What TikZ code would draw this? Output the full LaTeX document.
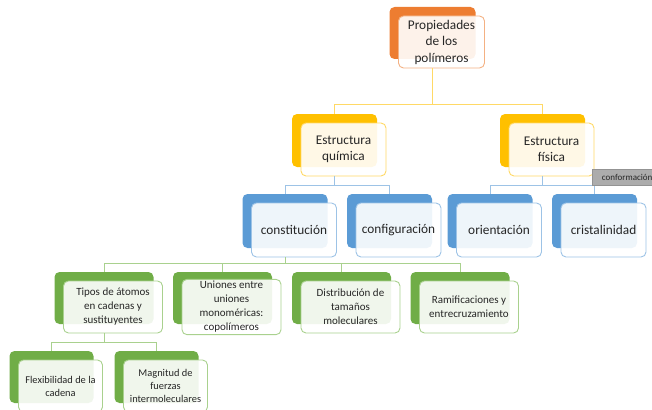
\documentclass[tikz,border=0pt]{standalone}
\usepackage{fontspec}
\setmainfont{Carlito}
\definecolor{naranja}{HTML}{ED7D31}
\definecolor{naranjaL}{HTML}{F4B183}
\definecolor{amarillo}{HTML}{FFC000}
\definecolor{amarilloL}{HTML}{FFD966}
\definecolor{azul}{HTML}{5B9BD5}
\definecolor{azulL}{HTML}{9DC3E6}
\definecolor{verde}{HTML}{70AD47}
\definecolor{verdeL}{HTML}{A9D18E}

\begin{document}
\begin{tikzpicture}[x=1pt, y={(0pt,-1pt)},
  every node/.style={rounded corners=5pt, inner sep=2pt, align=center, text=black!85},
  atras/.style={fill=#1},
  frente/.style={fill=white, fill opacity=0.9, text opacity=1, draw=#1, line width=0.9pt},
  n1/.style={minimum width=86pt, minimum height=52pt, font=\fontsize{13.3}{16.5}\selectfont},
  n2/.style={minimum width=85pt, minimum height=53pt, font=\fontsize{13.3}{16.5}\selectfont},
  n3/.style={minimum width=85pt, minimum height=54pt, font=\fontsize{13.3}{16.5}\selectfont},
  n4/.style={minimum width=99pt, minimum height=52pt, font=\fontsize{11}{14}\selectfont},
  n5/.style={minimum width=84pt, minimum height=52pt, font=\fontsize{10.4}{13}\selectfont},
  enlace/.style={draw=#1, line width=0.9pt},
  etiqueta/.style={rounded corners=0pt, fill=gray!65, draw=gray!85, anchor=north west,
    minimum width=70pt, minimum height=16pt, inner xsep=4pt, align=left,
    font=\fontsize{9}{11}\selectfont}]
\useasboundingbox (0,0) rectangle (652,409);
\clip (0,0) rectangle (652,409);

\coordinate (bus1) at (0,104);
\coordinate (bus2) at (0,185);
\coordinate (bus3) at (0,263);
\coordinate (bus4) at (0,342);

\node[n1,atras=naranja] (propB) at (432.5,33) {};
\node[n1,frente=naranjaL] (propF) at ([shift={(9,9)}]propB) {Propiedades\\de los\\polímeros};

\node[n2,atras=amarillo] (quimB) at (334.5,140.5) {};
\node[n2,frente=amarilloL] (quimF) at ([shift={(9,9)}]quimB) {Estructura\\química};
\node[n2,atras=amarillo] (fisB) at (542.5,140.5) {};
\node[n2,frente=amarilloL] (fisF) at ([shift={(9,9)}]fisB) {Estructura\\física};

\node[n3,atras=azul] (consB) at (285,221) {};
\node[n3,frente=azulL] (consF) at ([shift={(9,9)}]consB) {constitución};
\node[n3,atras=azul] (confB) at (389.5,221) {};
\node[n3,frente=azulL] (confF) at ([shift={(9,9)}]confB) {configuración};
\node[n3,atras=azul] (orieB) at (490,221) {};
\node[n3,frente=azulL] (orieF) at ([shift={(9,9)}]orieB) {orientación};
\node[n3,atras=azul] (crisB) at (594.5,221) {};
\node[n3,frente=azulL] (crisF) at ([shift={(9,9)}]crisB) {cristalinidad};

\node[n4,atras=verde] (tipoB) at (104,298) {};
\node[n4,frente=verdeL] (tipoF) at ([shift={(9,9)}]tipoB) {Tipos de átomos\\en cadenas y\\sustituyentes};
\node[n4,atras=verde] (unioB) at (222.5,298) {};
\node[n4,frente=verdeL] (unioF) at ([shift={(9,9)}]unioB) {Uniones entre\\uniones\\monoméricas:\\copolímeros};
\node[n4,atras=verde] (distB) at (341.5,298) {};
\node[n4,frente=verdeL] (distF) at ([shift={(9,9)}]distB) {Distribución de\\tamaños\\moleculares};
\node[n4,atras=verde] (ramiB) at (460,298) {};
\node[n4,frente=verdeL] (ramiF) at ([shift={(9,9)}]ramiB) {Ramificaciones y\\entrecruzamiento};

\node[n5,atras=verde] (flexB) at (51.5,377) {};
\node[n5,frente=verdeL] (flexF) at ([shift={(9,9)}]flexB) {Flexibilidad de la\\cadena};
\node[n5,atras=verde] (magnB) at (156.5,377) {};
\node[n5,frente=verdeL] (magnF) at ([shift={(9,9)}]magnB) {Magnitud de\\fuerzas\\intermoleculares};

\draw[enlace=amarilloL] (propB |- propF.south) |- (quimB |- bus1) -- (quimB.north);
\draw[enlace=amarilloL] (propB |- propF.south) |- (fisB |- bus1) -- (fisB.north);

\draw[enlace=azulL] (quimB |- quimF.south) |- (consB |- bus2) -- (consB.north);
\draw[enlace=azulL] (quimB |- quimF.south) |- (confB |- bus2) -- (confB.north);
\draw[enlace=azulL] (fisB |- fisF.south) |- (orieB |- bus2) -- (orieB.north);
\draw[enlace=azulL] (fisB |- fisF.south) |- (crisB |- bus2) -- (crisB.north);

\foreach \hijo in {tipoB,unioB,distB,ramiB}
  \draw[enlace=verdeL] (consB |- consF.south) |- (\hijo |- bus3) -- (\hijo.north);
\foreach \hijo in {flexB,magnB}
  \draw[enlace=verdeL] (tipoB |- tipoF.south) |- (\hijo |- bus4) -- (\hijo.north);

\node[etiqueta] (conf) at (592,169) {conformación};
\end{tikzpicture}
\end{document}
